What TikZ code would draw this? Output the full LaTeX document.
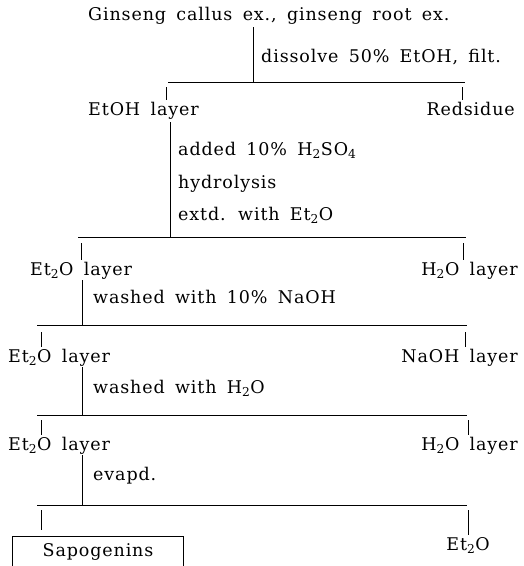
\documentclass[tikz,border=0pt]{standalone}
\usepackage{fontspec}
\setmainfont{DejaVu Serif}[WordSpace=1.6, LetterSpace=5]
\usepackage{tikz}
\usetikzlibrary{positioning, calc}

\begin{document}
\begin{tikzpicture}[
    x=1pt, y=-1pt,
    every node/.style={inner sep=0pt, font=\fontsize{17.5}{20}\selectfont},
    txt/.style={anchor=base west},
    txtr/.style={anchor=base east},
    ln/.style={line width=0.8pt},
  ]
    \useasboundingbox (0,0) rectangle (524,566);

    % texts
    \node[txt] (src) at (88,20) {Ginseng callus ex., ginseng root ex.};
    \node[txt] (dissolve) at (261,62) {dissolve 50\% EtOH, filt.};
    \node[txt] (etoh) at (88,115) {EtOH layer};
    \node[txtr] (resid) at (515,115) {Redsidue};
    \node[txt] (acid) at (178,155) {added 10\% H\textsubscript{2}SO\textsubscript{4}};
    \node[txt] (hydro) at (178,188) {hydrolysis};
    \node[txt] (extd) at (178,220) {extd. with Et\textsubscript{2}O};
    \node[txt] (ethA) at (30,275) {Et\textsubscript{2}O layer};
    \node[txtr] (watA) at (518,275) {H\textsubscript{2}O layer};
    \node[txt] (washA) at (93,303) {washed with 10\% NaOH};
    \node[txt] (ethB) at (8,362) {Et\textsubscript{2}O layer};
    \node[txtr] (naoh) at (518,362) {NaOH layer};
    \node[txt] (washB) at (93,393) {washed with H\textsubscript{2}O};
    \node[txt] (ethC) at (8,450) {Et\textsubscript{2}O layer};
    \node[txtr] (watB) at (518,450) {H\textsubscript{2}O layer};
    \node[txt] (evap) at (93,480) {evapd.};
    \node[txtr] (ethD) at (490,550) {Et\textsubscript{2}O};
    \node[minimum width=170, minimum height=30] (sapo) at (98,552) {Sapogenins};

    % bars
    \coordinate (barA) at (253,82);
    \coordinate (barB) at (170,237);
    \coordinate (barC) at (82,325);
    \coordinate (barD) at (82,415);
    \coordinate (barE) at (82,505);

    % trunks
    \draw[ln] ([yshift=-3]src.south -| barA) -- (barA);
    \draw[ln] ([yshift=-3]etoh.south -| barB) -- (barB);
    \draw[ln] ([yshift=-1]ethA.south -| barC) -- (barC);
    \draw[ln] ([yshift=-1]ethB.south -| barD) -- (barD);
    \draw[ln] ([yshift=-1]ethC.south -| barE) -- (barE);

    \draw[ln] (168,82) -- (465,82);
    \draw[ln] (78,237) -- (466,237);
    \draw[ln] (37,325) -- (467,325);
    \draw[ln] (37,415) -- (467,415);
    \draw[ln] (37,505) -- (467,505);

    % ticks
    \coordinate (kA1) at (166,87);  \coordinate (kA2) at (462,87);
    \coordinate (kB1) at (81,243);  \coordinate (kB2) at (463,243);
    \coordinate (kC1) at (41,332);  \coordinate (kC2) at (465,332);
    \coordinate (kD1) at (41,420);  \coordinate (kD2) at (468,420);
    \coordinate (kE1) at (41,510);  \coordinate (kE2) at (468,510);
    \draw[ln] (kA1) -- ([yshift=2]kA1 |- etoh.north);
    \draw[ln] (kA2) -- ([yshift=2]kA2 |- resid.north);
    \draw[ln] (kB1) -- ([yshift=2]kB1 |- ethA.north);
    \draw[ln] (kB2) -- ([yshift=2]kB2 |- watA.north);
    \draw[ln] (kC1) -- ([yshift=2]kC1 |- ethB.north);
    \draw[ln] (kC2) -- ([yshift=2]kC2 |- naoh.north);
    \draw[ln] (kD1) -- ([yshift=2]kD1 |- ethC.north);
    \draw[ln] (kD2) -- ([yshift=2]kD2 |- watB.north);
    \draw[ln] (kE1) -- ([yshift=7]kE1 |- sapo.north);
    \draw[ln] (kE2) -- ([yshift=2]kE2 |- ethD.north);

    % open box
    \draw[ln] (sapo.south west) |- (sapo.north east) -- (sapo.south east);
  \end{tikzpicture}
\end{document}
